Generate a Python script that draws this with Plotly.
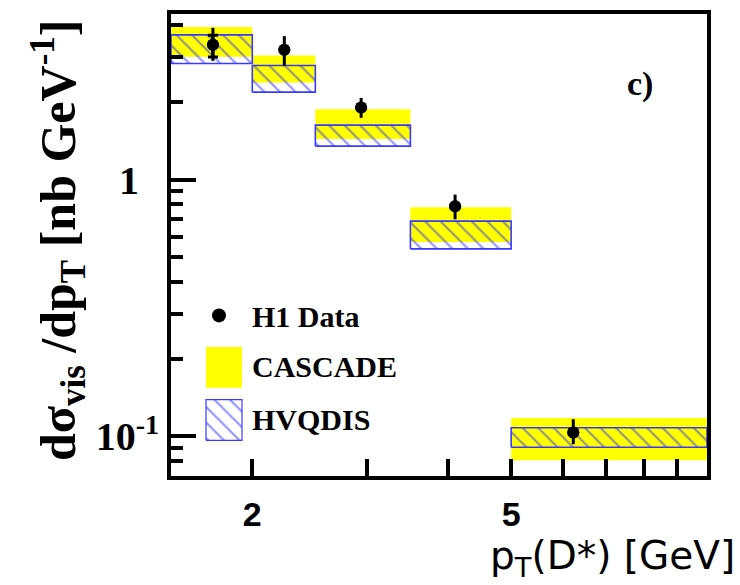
import plotly.graph_objects as go

# ---- data ----
bin_lo = [1.5, 2.0, 2.5, 3.5, 5.0]
bin_hi = [2.0, 2.5, 3.5, 5.0, 10.0]

data_x = [1.74, 2.24, 2.94, 4.10, 6.23]
data_y = [3.35, 3.20, 1.91, 0.787, 0.1036]
tot_up = [0.55, 0.42, 0.17, 0.087, 0.013]
tot_dn = [0.45, 0.42, 0.17, 0.087, 0.0104]
stat_up = [0.30, 0.0, 0.0, 0.0, 0.0]
stat_dn = [0.35, 0.0, 0.0, 0.0, 0.0]

cascade_lo = [3.01, 2.39, 1.44, 0.571, 0.0808]
cascade_hi = [3.93, 3.04, 1.88, 0.780, 0.118]
hvqdis_lo = [2.83, 2.19, 1.35, 0.537, 0.0907]
hvqdis_hi = [3.66, 2.78, 1.63, 0.689, 0.108]

x_major = [2, 5]
x_major_text = ["2", "5"]
x_minor = [3, 4, 6, 7, 8, 9]
y_major = [0.1, 1]
y_major_text = ["10<sup>-1</sup>", "1&nbsp;&nbsp;"]
y_minor = [0.07, 0.08, 0.09, 0.2, 0.3, 0.4, 0.5, 0.6, 0.7, 0.8, 0.9, 2, 3, 4]

legend_labels = ["H1 Data", "CASCADE", "HVQDIS"]

YELLOW = "#ffff00"
BLUE = "#3a3aff"
SERIF = "Liberation Serif"


def rects(lo, hi, ylo, yhi):
    xs, ys = [], []
    for a, b, c, d in zip(lo, hi, ylo, yhi):
        xs += [a, b, b, a, a, None]
        ys += [c, c, d, d, c, None]
    return xs, ys


HATCH = dict(shape="\\", fgcolor="#2a2aff", bgcolor="rgba(0,0,0,0)", size=11, solidity=0.2)

fig = go.Figure()

cx, cy = rects(bin_lo, bin_hi, cascade_lo, cascade_hi)
fig.add_trace(go.Scatter(x=cx, y=cy, mode="lines", fill="toself",
                         fillcolor=YELLOW, line=dict(width=0, color=YELLOW),
                         hoverinfo="skip", showlegend=False))

hx, hy = rects(bin_lo, bin_hi, hvqdis_lo, hvqdis_hi)
fig.add_trace(go.Scatter(x=hx, y=hy, mode="lines", fill="toself",
                         fillcolor="rgba(0,0,0,0)", fillpattern=HATCH,
                         line=dict(width=1.6, color=BLUE),
                         hoverinfo="skip", showlegend=False))

# total errors (no caps)
fig.add_trace(go.Scatter(x=data_x, y=data_y, mode="markers",
                         marker=dict(color="black", size=12),
                         error_y=dict(type="data", symmetric=False,
                                      array=tot_up, arrayminus=tot_dn,
                                      color="black", thickness=3, width=0),
                         showlegend=False))
# statistical errors (with caps)
fig.add_trace(go.Scatter(x=data_x, y=data_y, mode="markers",
                         marker=dict(color="black", size=12),
                         error_y=dict(type="data", symmetric=False,
                                      array=stat_up, arrayminus=stat_dn,
                                      color="black", thickness=3, width=5),
                         showlegend=False))

# ---- hand-made legend on an overlay unit axis ----
L = 171.0
R = 707.0
T = 10.0
B = 476.0


def ux(px):
    return (px - L) / (R - L)


def uy(py):
    return (B - py) / (B - T)


fig.add_trace(go.Scatter(x=[ux(219)], y=[uy(314)], xaxis="x2", yaxis="y2",
                         mode="markers", marker=dict(color="black", size=14),
                         hoverinfo="skip", showlegend=False))
fig.add_trace(go.Scatter(x=[ux(206), ux(242), ux(242), ux(206), ux(206)],
                         y=[uy(387), uy(387), uy(346), uy(346), uy(387)],
                         xaxis="x2", yaxis="y2", mode="lines", fill="toself",
                         fillcolor=YELLOW, line=dict(width=0, color=YELLOW),
                         hoverinfo="skip", showlegend=False))
fig.add_trace(go.Scatter(x=[ux(206), ux(242), ux(242), ux(206), ux(206)],
                         y=[uy(440), uy(440), uy(399), uy(399), uy(440)],
                         xaxis="x2", yaxis="y2", mode="lines", fill="toself",
                         fillcolor="rgba(0,0,0,0)", fillpattern=HATCH,
                         line=dict(width=1.2, color=BLUE),
                         hoverinfo="skip", showlegend=False))

annotations = []
for lab, py in zip(legend_labels, [315, 366, 419]):
    annotations.append(dict(text=lab, xref="paper", yref="paper",
                            x=ux(250), y=uy(py), xanchor="left", yanchor="middle",
                            showarrow=False,
                            font=dict(family=SERIF, size=30, color="black", weight="bold")))

annotations.append(dict(text="c)", xref="paper", yref="paper", x=ux(640), y=uy(81),
                        showarrow=False, xanchor="center", yanchor="middle",
                        font=dict(family=SERIF, size=34, color="black", weight="bold")))

annotations.append(dict(text="dσ<sub>vis</sub> /dp<sub>T</sub> [nb GeV<sup>-1</sup>]",
                        xref="paper", yref="paper", x=ux(58), y=uy(238),
                        textangle=-90, showarrow=False,
                        xanchor="center", yanchor="middle",
                        font=dict(family=SERIF, size=50, color="black", weight="bold")))

annotations.append(dict(text="p<sub>T</sub>(D*) [GeV]", xref="paper", yref="paper",
                        x=ux(737), y=uy(559), xanchor="right", yanchor="middle",
                        showarrow=False,
                        font=dict(family="DejaVu Sans", size=39, color="black")))

fig.update_layout(
    width=740, height=585,
    margin=dict(l=L, r=740 - R, t=T, b=585 - B),
    paper_bgcolor="white", plot_bgcolor="white",
    showlegend=False,
    annotations=annotations,
    xaxis=dict(type="log", range=[0.176091, 1.0], showgrid=False, zeroline=False,
               showline=True, linecolor="black", linewidth=4, mirror=True,
               ticks="inside", ticklen=17, tickwidth=4, tickcolor="black",
               tickvals=x_major, ticktext=x_major_text,
               tickfont=dict(family="Liberation Sans", size=34, color="black", weight="bold"),
               ticklabelstandoff=5,
               minor=dict(tickvals=x_minor, ticks="inside", ticklen=17,
                          tickwidth=4, tickcolor="black", showgrid=False)),
    yaxis=dict(type="log", range=[-1.1544, 0.6448], showgrid=False, zeroline=False,
               showline=True, linecolor="black", linewidth=4, mirror=True,
               ticks="inside", ticklen=25, tickwidth=4, tickcolor="black",
               tickvals=y_major, ticktext=y_major_text,
               tickfont=dict(family=SERIF, size=40, color="black", weight="bold"),
               minor=dict(tickvals=y_minor, ticks="inside", ticklen=12,
                          tickwidth=4, tickcolor="black", showgrid=False)),
    xaxis2=dict(overlaying="x", range=[0, 1], visible=False, fixedrange=True),
    yaxis2=dict(overlaying="y", range=[0, 1], visible=False, fixedrange=True),
)

fig.write_html("out.html")
